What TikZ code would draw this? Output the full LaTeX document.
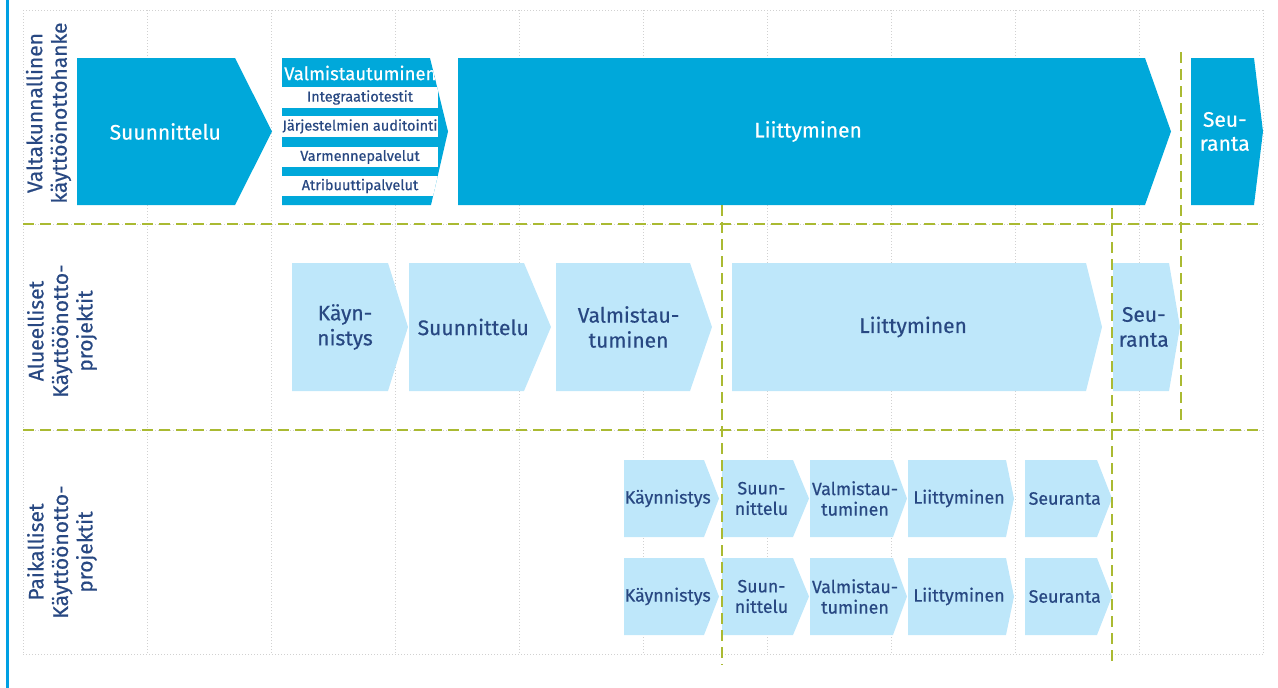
\documentclass[tikz,border=0pt]{standalone}
\usepackage{fontspec}
\setsansfont{Fira Sans}[FakeBold=0.5]
\definecolor{phaseblue}{RGB}{0,168,218}
\definecolor{paleblue}{RGB}{190,231,250}
\definecolor{inkblue}{RGB}{40,72,130}
\definecolor{olive}{RGB}{170,186,50}
\definecolor{railblue}{RGB}{0,160,227}
\tikzset{phase/.style = {fill=phaseblue}}
\tikzset{phase text/.style = {text=white,align=center,font=\sffamily\fontsize{21}{24}\selectfont}}
\tikzset{subphase/.style = {fill=paleblue}}
\tikzset{subphase text/.style = {text=inkblue,align=center,font=\sffamily\fontsize{21}{25}\selectfont}}
\tikzset{local/.style = {fill=paleblue}}
\tikzset{local text/.style = {text=inkblue,align=center,inner sep=0pt,font=\sffamily\fontsize{17.8}{20.5}\selectfont}}
\tikzset{stripe text/.style = {text=inkblue,inner sep=0pt,font=\sffamily\fontsize{14.5}{16}\selectfont}}
\tikzset{lane/.style = {text=inkblue,rotate=90,align=center,font=\sffamily\fontsize{21}{24.5}\selectfont}}
\tikzset{grid line/.style = {draw=black!18,line width=1pt,dash pattern=on 1pt off 2pt}}
\tikzset{border/.style = {draw=olive,line width=2.6pt,dash pattern=on 11pt off 6pt}}

% style, left, top, right, tip, bottom, name, text
\newcommand{\chevron}[8]{%
  \fill[#1] (#2,#3) -- (#4,#3) -- (#5,{(#3+#6)/2}) -- (#4,#6) -- (#2,#6) -- cycle;
  \node[#1 text] (#7) at ({(#2+(#4+#5)/2)/2},{(#3+#6)/2}) {#8};}

\begin{document}
\begin{tikzpicture}[x=1pt,y=-1pt,font=\sffamily]
  \useasboundingbox (0,0) rectangle (1278,688);
  \draw[railblue,line width=3pt] (7,0) -- (7,688);

  % grid
  \foreach \x in {23,147,...,1263}
    \draw[grid line] (\x,10) -- (\x,654);
  \foreach \y in {10,224,430,654}
    \draw[grid line] (23,\y) -- (1263,\y);

  % lanes
  \node[lane] (national) at (48.5,113) {Valtakunnallinen\\käyttöönottohanke};
  \node[lane] (regional) at (62,331) {Alueelliset\\Käyttöönotto-\\projektit};
  \node[lane] (local) at (62,552) {Paikalliset\\Käyttöönotto-\\projektit};

  % national project
  \chevron{phase}{77}{58}{235}{272}{205}{n1}{Suunnittelu}
  \fill[phase] (282,58) -- (430,58) -- (448,131.5) -- (431,205) -- (282,205) -- cycle;
  \begin{scope}
    \clip (282,58) -- (430,58) -- (448,131.5) -- (431,205) -- (282,205) -- cycle;
    \foreach \t/\b in {87/108,116/137,147/167,176/196}
      \fill[white] (282,\t) rectangle (438,\b);
    \node[anchor=west,inner sep=0pt,text=white,font=\sffamily\fontsize{18.5}{20}\selectfont]
      (n2) at (284,73) {Valmistautuminen};
  \end{scope}
  \node[stripe text] (s1) at (360,97.5) {Integraatiotestit};
  \node[stripe text] (s2) at (360,126.5) {Järjestelmien auditointi};
  \node[stripe text] (s3) at (360,157) {Varmennepalvelut};
  \node[stripe text] (s4) at (360,186) {Atribuuttipalvelut};
  \chevron{phase}{458}{58}{1145}{1171}{205}{n3}{Liittyminen}
  \chevron{phase}{1191}{58}{1254}{1263}{205}{n4}{Seu-\\ranta}

  % regional projects
  \chevron{subphase}{292}{263}{388}{408}{391}{r1}{Käyn-\\nistys}
  \chevron{subphase}{409}{263}{524}{551}{391}{r2}{Suunnittelu}
  \chevron{subphase}{556}{263}{690}{712}{391}{r3}{Valmistau-\\tuminen}
  \chevron{subphase}{732}{263}{1086}{1102}{391}{r4}{Liittyminen}
  \chevron{subphase}{1113}{263}{1169}{1180}{391}{r5}{Seu-\\ranta}

  % local projects
  \foreach \t/\b/\k in {460/537/a,558/635/b} {
    \chevron{local}{624}{\t}{704}{719}{\b}{l\k1}{Käynnistys}
    \chevron{local}{722}{\t}{793}{809}{\b}{l\k2}{Suun-\\nittelu}
    \chevron{local}{810}{\t}{893}{907}{\b}{l\k3}{Valmistau-\\tuminen}
    \chevron{local}{908}{\t}{1006}{1014}{\b}{l\k4}{Liittyminen}
    \chevron{local}{1025}{\t}{1097}{1112}{\b}{l\k5}{Seuranta}
  }

  % borders
  \draw[border] (23,224) -- (1263,224);
  \draw[border] (23,430) -- (1263,430);
  \draw[border] (722,205) -- (722,665);
  \draw[border] (1112,208) -- (1112,665);
  \draw[border] (1181,52) -- (1181,425);
\end{tikzpicture}
\end{document}
